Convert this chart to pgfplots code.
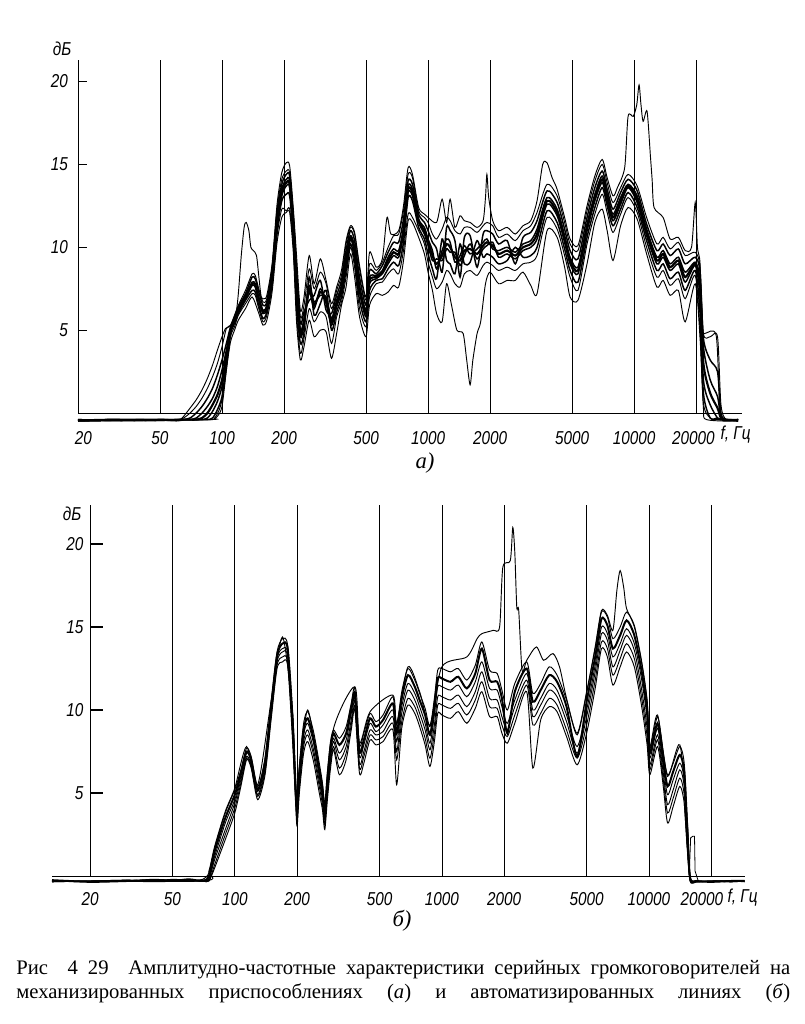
\documentclass[border=0pt]{standalone}
\usepackage{fontspec}
\setmainfont{Liberation Serif}
\newfontfamily\tickfont{Liberation Sans}[FakeStretch=0.82]
\usepackage{pgfplots}
\usepackage{pgfplotstable}
\pgfplotsset{compat=1.18}

% Panel (a): band of curves, columns k=+1 ... -1
\pgfplotstableread{
f a1 a2 a3 a4 a5 a6 a7
20 -0.4 -0.45 -0.4 -0.45 -0.4 -0.45 -0.5
30 -0.45 -0.4 -0.45 -0.4 -0.45 -0.4 -0.45
40 -0.4 -0.45 -0.4 -0.4 -0.45 -0.45 -0.4
50 -0.45 -0.4 -0.45 -0.4 -0.4 -0.45 -0.45
60 -0.4 -0.4 -0.4 -0.45 -0.4 -0.4 -0.45
65 -0.3 -0.4 -0.4 -0.4 -0.4 -0.4 -0.4
70 0.0 -0.3 -0.4 -0.4 -0.4 -0.4 -0.4
75 0.4 0.0 -0.3 -0.4 -0.4 -0.4 -0.4
80 0.9 0.4 0.0 -0.3 -0.4 -0.4 -0.4
85 1.5 0.9 0.4 0.0 -0.3 -0.4 -0.4
90 2.2 1.5 0.9 0.5 0.1 -0.3 -0.4
95 3.0 2.3 1.6 1.1 0.7 0.2 -0.2
100 4.0 3.2 2.6 2.0 1.6 1.0 0.4
105 5.1 4.2 3.8 3.5 3.2 3.0 2.6
110 5.3 5.2 5.1 5.0 4.9 4.8 4.6
115 5.9 5.8 5.7 5.6 5.5 5.4 5.2
120 6.5 6.4 6.3 6.2 6.1 6.0 5.9
130 7.4 7.2 7.1 7.0 6.9 6.8 6.6
140 8.4 8.2 7.9 7.8 7.7 7.4 7.2
145 8.3 8.1 7.8 7.7 7.6 7.3 7.1
150 7.6 7.4 7.1 7.0 6.9 6.6 6.4
158 6.7 6.5 6.2 6.1 6.0 5.7 5.5
165 6.9 6.7 6.5 6.4 6.3 6.1 5.9
175 8.8 8.6 8.3 8.2 8.1 7.8 7.6
185 12.3 12.0 11.7 11.5 11.3 11.0 10.7
195 14.1 13.8 13.5 13.3 13.1 12.8 12.3
205 14.6 14.4 14.1 13.9 13.7 13.2 12.2
213 14.5 14.3 14.0 13.8 13.6 13.1 12.3
222 12.0 11.6 11.2 11.0 10.8 10.4 10.0
230 9.0 8.4 7.8 7.5 7.2 6.6 6.0
240 5.8 5.4 5.0 4.8 4.6 4.2 3.6
250 6.5 6.1 5.7 5.5 5.3 4.9 4.5
265 8.7 6.8 7.7 7.5 7.3 8.2 6.3
280 7.5 7.1 6.7 6.5 6.3 5.9 5.5
300 8.5 8.0 7.1 7.3 7.5 6.6 6.1
320 7.8 6.2 7.0 6.8 6.6 7.4 5.8
340 6.3 6.0 5.7 5.5 5.3 5.0 4.2
360 7.4 7.1 6.8 6.6 6.4 6.1 5.8
380 8.3 8.0 7.7 7.5 7.3 7.0 6.7
400 10.2 9.8 9.4 9.2 9.0 8.6 8.2
420 11.2 11.0 10.7 10.6 10.5 10.2 10.0
440 10.8 10.4 10.0 9.8 9.6 9.2 8.8
465 8.7 8.2 7.7 7.5 7.3 6.8 6.3
500 6.8 6.5 6.2 6.0 5.8 5.5 5.2
520 9.0 8.6 8.2 8.0 7.8 7.4 7.0
560 8.6 8.4 8.3 8.2 8.1 8.0 7.8
600 9.1 8.9 8.6 8.5 8.4 8.1 7.9
640 10.0 9.7 9.4 9.2 9.0 8.7 8.4
680 10.7 10.3 9.9 9.7 9.5 9.1 8.7
720 10.8 10.3 9.8 9.6 9.4 8.9 8.4
760 12.2 11.7 11.2 11.0 10.8 10.3 9.8
800 14.4 14.0 13.7 13.5 13.3 13.0 12.0
840 14.2 13.8 13.5 13.3 13.1 12.8 11.8
900 12.2 12.0 11.7 11.6 11.5 11.2 11.0
960 11.8 11.5 11.2 11.0 10.8 10.5 10.2
1000 11.5 11.0 10.5 10.3 10.1 9.6 9.1
1050 10.8 10.3 9.8 9.5 9.2 8.7 8.2
1100 10.5 9.9 8.7 9.0 9.3 8.1 7.5
1170 11.1 8.5 9.8 9.5 9.2 10.5 7.9
1230 11.8 11.2 10.5 10.2 9.9 9.2 8.6
1280 11.6 11.0 10.3 10.0 9.7 9.0 8.4
1350 11.0 10.4 9.1 9.4 9.7 8.4 7.8
1430 10.8 8.2 9.5 9.2 8.9 10.2 7.6
1500 11.2 10.6 10.1 9.8 9.5 9.0 8.4
1600 11.2 10.7 9.6 9.9 10.2 9.1 8.6
1730 10.9 8.8 9.9 9.6 9.3 10.4 8.3
1850 11.3 10.8 10.3 10.1 9.9 9.4 8.9
1930 11.5 11.0 10.5 10.3 10.1 9.6 9.1
2060 11.3 10.8 9.9 10.1 10.3 9.4 8.9
2200 10.6 10.2 9.8 9.6 9.4 9.0 8.6
2420 10.8 10.4 10.0 9.8 9.6 9.2 8.8
2650 10.4 9.0 9.7 9.5 9.3 10.0 8.6
2890 11.0 10.6 10.2 10.0 9.8 9.4 9.0
3150 11.3 10.9 10.4 10.2 10.0 9.5 9.1
3380 12.1 11.6 11.1 10.8 10.5 10.0 9.5
3780 13.8 13.4 13.0 12.8 12.6 12.2 11.8
4230 13.1 12.7 12.3 12.1 11.9 11.5 11.1
4600 11.5 11.1 10.7 10.5 10.3 9.9 9.5
4890 10.2 9.8 9.4 9.2 9.0 8.6 8.2
5340 9.8 9.3 8.8 8.6 8.4 7.9 7.4
5910 12.2 11.8 11.4 11.2 11.0 10.6 10.2
6450 14.0 13.6 13.2 13.0 12.8 12.4 12.0
7000 15.0 14.6 14.3 14.1 13.9 13.6 13.2
7400 13.9 13.5 13.2 13.0 12.8 12.5 12.1
7900 12.7 12.3 12.0 11.8 11.6 11.3 10.9
8600 13.6 13.3 13.0 12.8 12.6 12.3 12.0
9350 14.4 14.1 13.8 13.7 13.6 13.3 13.0
10350 13.7 13.4 13.1 12.9 12.7 12.4 12.1
11500 11.8 11.4 11.1 10.9 10.7 10.4 10.0
12900 10.2 9.8 9.4 9.2 9.0 8.6 8.2
13830 10.6 10.2 9.8 9.6 9.4 9.0 8.6
14960 9.9 9.5 9.0 8.8 8.6 8.1 7.7
16400 10.3 9.9 9.4 9.2 9.0 8.5 8.1
17700 9.5 9.0 8.5 8.2 7.9 7.4 6.9
19800 9.7 9.4 9.1 9.0 8.9 8.6 8.3
20900 8.8 8.5 8.0 7.5 7.0 6.0 5.0
21700 4.8 4.5 4.0 3.0 2.0 1.2 0.6
23400 4.6 3.2 2.0 1.2 0.5 -0.3 -0.3
25400 4.6 2.5 1.0 0.3 -0.3 -0.3 -0.4
26400 0.5 0.0 -0.3 -0.3 -0.4 -0.4 -0.4
28000 -0.4 -0.4 -0.45 -0.4 -0.4 -0.45 -0.4
32000 -0.4 -0.4 -0.4 -0.45 -0.4 -0.4 -0.4
}\dataA

% Panel (b): band of curves, columns k=+1 ... -1
\pgfplotstableread{
f b1 b2 b3 b4 b5 b6
13.1 -0.3 -0.25 -0.3 -0.35 -0.3 -0.35
20 -0.3 -0.35 -0.3 -0.3 -0.35 -0.3
30 -0.25 -0.3 -0.3 -0.25 -0.3 -0.3
40 -0.3 -0.25 -0.2 -0.3 -0.25 -0.3
50 -0.2 -0.3 -0.25 -0.3 -0.3 -0.25
60 -0.25 -0.2 -0.3 -0.25 -0.3 -0.3
70 -0.2 -0.3 -0.25 -0.3 -0.3 -0.3
75 0.2 0.0 -0.1 -0.2 -0.3 -0.3
80 1.7 1.5 1.2 1.0 0.7 0.5
90 3.8 3.5 3.2 2.8 2.5 2.2
100 5.2 4.9 4.6 4.4 4.1 3.8
107 6.4 6.2 6.0 5.8 5.6 5.4
114 7.7 7.5 7.4 7.2 7.1 7.0
120 7.2 7.0 6.9 6.7 6.6 6.5
129 5.4 5.2 5.1 4.9 4.8 4.6
140 7.1 6.9 6.7 6.5 6.3 6.1
150 10.5 10.3 10.1 9.9 9.7 9.5
160 13.5 13.3 13.1 12.9 12.7 12.5
170 14.3 14.0 13.7 13.5 13.2 12.9
180 13.9 13.7 13.4 13.2 12.9 12.7
190 9.8 9.5 9.2 8.8 8.5 8.2
197 5.4 5.2 4.9 4.7 4.4 4.2
200 4.6 4.3 4.0 3.6 3.3 3.0
205 6.6 6.3 6.0 5.6 5.3 5.0
215 9.2 8.8 8.5 8.1 7.8 7.4
225 9.9 9.5 9.2 8.8 8.5 8.1
240 8.7 8.3 8.0 7.6 7.3 6.9
255 6.9 6.5 6.2 5.8 5.5 5.1
265 5.6 5.3 5.0 4.6 4.3 4.0
272 4.2 3.9 3.6 3.4 3.1 2.8
280 6.2 5.9 5.6 5.2 4.9 4.6
290 8.1 7.8 7.5 7.1 6.8 6.5
300 8.8 8.6 8.3 8.1 7.8 7.6
320 8.3 7.9 7.4 7.0 6.5 6.1
345 9.0 8.6 8.2 7.8 7.4 7.0
365 10.4 10.1 9.8 9.4 9.1 8.8
380 11.3 11.0 10.7 10.5 10.2 10.0
400 7.9 7.5 7.2 6.8 6.5 6.2
420 8.6 8.2 7.9 7.5 7.2 6.8
450 9.8 9.5 9.2 8.8 8.5 8.2
480 9.3 9.0 8.7 8.5 8.2 7.9
520 9.7 9.4 9.1 8.7 8.4 8.1
580 10.8 10.4 10.0 9.6 9.2 8.8
605 9.1 8.6 8.1 7.5 7.0 5.5
640 11.1 10.7 10.2 9.8 9.3 8.9
686 12.5 12.1 11.6 11.2 10.7 10.3
740 11.8 11.4 11.0 10.6 10.2 9.8
781 11.0 10.6 10.2 9.8 9.4 9.0
830 10.1 9.7 9.2 8.8 8.3 7.9
876 9.0 8.5 8.0 7.6 7.1 6.6
920 10.7 10.2 9.7 9.1 8.6 8.1
955 12.4 11.9 11.4 10.8 10.3 9.8
1000 12.5 11.9 11.4 10.8 10.3 9.7
1100 12.3 11.7 11.2 10.6 10.1 9.5
1200 12.5 12.0 11.5 10.9 10.4 9.9
1320 11.8 11.3 10.8 10.2 9.7 9.2
1450 12.7 12.2 11.7 11.1 10.6 10.1
1560 14.1 13.7 12.9 12.3 11.7 11.1
1700 12.4 11.8 11.3 10.7 10.2 9.6
1850 12.2 11.7 11.2 10.6 10.1 9.6
1950 11.2 10.7 10.2 9.6 9.1 8.6
2070 10.0 8.6 9.2 8.8 8.4 8.0
2250 11.6 11.1 10.6 10.2 9.7 9.2
2570 12.9 12.5 12.2 11.8 11.5 11.1
2750 11.0 10.5 10.0 9.6 9.1 6.5
3000 11.6 11.2 10.7 10.3 9.8 9.4
3300 12.6 12.1 11.6 11.2 10.7 10.2
3600 12.1 11.7 11.2 10.8 10.3 9.9
4000 10.6 10.2 9.7 9.3 8.8 8.4
4500 8.5 7.2 7.8 7.4 7.1 6.7
5000 11.0 10.5 10.0 9.6 9.1 8.6
5500 13.7 13.2 12.7 12.3 11.8 11.3
5900 15.9 15.5 15.0 14.6 14.1 13.7
6300 15.6 15.1 14.6 14.2 13.7 13.2
6700 14.3 13.7 13.2 12.6 12.1 11.5
7260 15.0 14.5 14.0 13.6 13.1 12.6
7800 15.9 15.4 14.9 14.5 14.0 13.5
8500 15.0 14.5 14.0 13.6 13.1 12.6
9200 12.9 12.4 11.9 11.3 10.8 10.3
9800 10.5 10.0 9.5 8.9 8.4 7.9
10100 7.7 7.4 7.1 6.7 6.4 6.1
11000 9.6 9.2 8.9 8.5 8.2 7.8
11700 7.5 7.1 6.7 6.3 5.9 5.5
12300 6.0 5.4 4.9 4.3 3.8 3.2
13100 6.8 6.3 5.8 5.2 4.7 4.2
14100 7.8 7.3 6.8 6.4 5.9 5.4
14800 6.8 6.3 5.8 5.4 4.9 4.4
15300 3.3 3.0 2.7 2.3 2.0 1.7
15800 0.0 -0.1 -0.2 -0.2 -0.3 -0.3
17000 -0.35 -0.3 -0.35 -0.3 -0.35 -0.3
20000 -0.3 -0.35 -0.3 -0.3 -0.3 -0.35
25000 -0.35 -0.3 -0.3 -0.35 -0.3 -0.3
29000 -0.3 -0.3 -0.35 -0.3 -0.3 -0.3
}\dataB

\tikzset{crv/.style={black, line width=0.7pt, smooth, tension=0.45}}
\newcommand\tf{\tickfont\itshape\fontsize{14}{16}\selectfont}

\begin{document}
\begin{tikzpicture}
\useasboundingbox (0,0) rectangle (603pt,-768pt);

% ---------------- panel (a) ----------------
\begin{axis}[at={(58.5pt,-309.75pt)}, anchor=south west, scale only axis,
  width=498pt, height=264.75pt,
  xmode=log, xmin=20, xmax=33400, ymin=0, ymax=21.3, clip=false,
  axis x line=bottom, axis y line=left, separate axis lines,
  axis line style={-, line width=0.6pt},
  xtick={20,50,100,200,500,1000,2000,5000,10000,20000},
  xticklabels={\hspace*{8pt}20,50,100,200,500,1000,2000,5000,10000,20000\hspace*{4pt}},
  xminorticks=false, xmajorgrids, major grid style={black, line width=0.5pt},
  xtick style={draw=none},
  ytick={5,10,15,20}, yticklabels={5,10,15,20},
  ytick align=inside, major tick length=6.75pt, ytick style={black, line width=0.6pt},
  ticklabel style={font=\tf},
  xticklabel style={yshift=-7pt}, yticklabel style={xshift=-4pt}]
\addplot[crv] table[x=f,y=a1]{\dataA};
\addplot[crv, line width=1.1pt] table[x=f,y=a2]{\dataA};
\addplot[crv, line width=1.1pt] table[x=f,y=a3]{\dataA};
\addplot[crv, line width=1.6pt] table[x=f,y=a4]{\dataA};
\addplot[crv, line width=1.1pt] table[x=f,y=a5]{\dataA};
\addplot[crv, line width=1.1pt] table[x=f,y=a6]{\dataA};
\addplot[crv] table[x=f,y=a7]{\dataA};
% upper outlier
\addplot[crv] coordinates {(20,-0.4) (60,-0.4) (64,-0.3) (70,0.3) (75,0.8) (80,1.4) (85,2.1) (90,2.9) (95,3.8) (100,4.6) (104,5.1) (108,5.2) (113,5.3) (117,6.0) (120,7.2) (124,9.5) (128,11.2) (131,11.5) (135,11.0) (138,10.0) (142,9.8) (147,9.5) (151,8.2) (155,7.0) (160,6.9) (165,7.1) (175,9.0) (185,12.6) (195,14.5) (205,15.1) (213,14.9) (222,12.3) (230,9.5) (240,6.2) (250,7.0) (265,9.5) (280,7.8) (300,9.3) (320,8.0) (340,6.6) (360,7.6) (380,8.6) (400,10.4) (420,11.3) (440,10.9) (465,8.9) (500,7.0) (520,9.7) (560,8.8) (600,9.3) (632,11.8) (660,10.8) (720,11.0) (760,12.5) (800,14.8) (840,14.4) (900,12.4) (960,12.0) (1000,11.8) (1100,11.5) (1170,12.9) (1230,11.5) (1280,12.9) (1350,11.2) (1430,11.9) (1500,11.6) (1600,11.5) (1730,11.2) (1850,11.6) (1900,13.0) (1930,14.4) (1970,13.0) (2060,11.6) (2200,11.0) (2420,11.2) (2650,10.8) (2890,11.3) (3150,11.6) (3380,12.8) (3600,15.0) (3780,15.1) (4000,14.2) (4230,13.5) (4600,11.8) (4890,10.5) (5340,10.1) (5910,12.5) (6450,14.3) (7000,15.3) (7400,14.2) (7900,13.1) (8300,13.6) (9000,14.8) (9350,17.9) (9900,17.9) (10300,18.6) (10570,19.8) (10800,18.6) (11060,17.6) (11560,18.2) (12000,15.5) (12230,14.1) (12500,12.4) (13830,11.8) (14960,10.5) (16400,10.6) (17700,9.8) (19000,10.0) (19800,12.7) (20300,10.0) (20900,9.0) (21200,5.0) (22000,4.8) (25000,4.7) (26000,0.5) (27000,-0.4) (32000,-0.4)};
% lower outlier
\addplot[crv] coordinates {(20,-0.5) (85,-0.4) (92,-0.3) (97,0.2) (100,0.8) (103,1.8) (106,3.0) (110,4.3) (115,5.0) (120,5.6) (130,6.3) (140,7.0) (150,6.1) (158,5.3) (165,5.6) (175,7.3) (185,10.3) (195,11.8) (205,12.1) (213,12.1) (222,9.6) (230,5.5) (240,3.2) (250,4.0) (265,5.6) (280,4.6) (300,5.0) (320,4.9) (340,3.3) (360,4.8) (380,6.5) (400,7.6) (420,9.6) (440,8.2) (465,5.8) (500,4.6) (520,6.5) (560,7.2) (600,7.1) (640,7.3) (680,7.7) (720,7.6) (760,9.2) (800,11.6) (840,11.5) (900,10.6) (960,9.6) (1000,8.5) (1050,7.4) (1100,6.0) (1170,5.5) (1230,7.8) (1300,6.5) (1380,5.0) (1480,4.8) (1540,3.2) (1600,1.7) (1650,3.2) (1730,4.8) (1800,5.5) (1900,7.8) (2000,8.5) (2200,7.8) (2420,8.0) (2650,8.0) (2890,8.5) (3150,7.7) (3380,7.2) (3780,11.0) (4230,10.6) (4600,8.8) (4890,7.0) (5340,6.8) (5910,9.0) (6450,11.5) (7000,12.3) (7400,11.0) (7900,9.2) (8600,11.3) (9350,12.4) (10350,11.7) (11500,9.6) (12900,7.6) (13830,8.0) (14960,7.1) (16400,7.4) (17700,5.5) (19800,7.8) (20900,4.5) (21700,0.3) (22500,-0.4) (32000,-0.5)};
\end{axis}

% ---------------- panel (b) ----------------
\begin{axis}[at={(39pt,-657pt)}, anchor=south west, scale only axis,
  width=519.75pt, height=278.25pt,
  xmode=log, xmin=13.1, xmax=29100, ymin=0, ymax=22.35, clip=false,
  axis x line=bottom, axis y line=left, separate axis lines,
  axis line style={-, line width=0.6pt}, y axis line style={draw=none},
  xtick={20,50,100,200,500,1000,2000,5000,10000,20000},
  xticklabels={20,50,100,200,500,1000,2000,5000,10000,20000\hspace*{14pt}},
  xminorticks=false, xmajorgrids, major grid style={black, line width=0.5pt},
  xtick style={draw=none},
  ytick={5,10,15,20}, yticklabels={5,10,15,20},
  ytick align=inside, ytick style={draw=none},
  ticklabel style={font=\tf},
  xticklabel style={yshift=-7pt}, yticklabel style={xshift=27pt}]
\addplot[crv] table[x=f,y=b1]{\dataB};
\addplot[crv, line width=1.5pt] table[x=f,y=b2]{\dataB};
\addplot[crv] table[x=f,y=b3]{\dataB};
\addplot[crv] table[x=f,y=b4]{\dataB};
\addplot[crv] table[x=f,y=b5]{\dataB};
\addplot[crv] table[x=f,y=b6]{\dataB};
% upper outlier
\addplot[crv] coordinates {(13.1,-0.3) (70,-0.3) (75,0.3) (80,1.8) (90,3.9) (100,5.3) (114,7.8) (129,5.5) (150,10.6) (170,14.4) (190,9.9) (200,4.7) (225,10.0) (272,4.3) (300,8.9) (380,11.4) (400,8.0) (450,9.9) (580,10.9) (605,9.2) (686,12.6) (781,11.1) (876,9.1) (1000,12.6) (1320,13.2) (1480,14.3) (1560,14.6) (1770,14.8) (1900,15.0) (1970,18.6) (2140,19.0) (2200,21.0) (2250,19.5) (2300,16.2) (2350,16.0) (2440,12.4) (2570,13.0) (2860,13.8) (3100,13.0) (3440,13.4) (3700,12.6) (4000,10.7) (4500,8.6) (5000,11.1) (5500,13.8) (5900,16.0) (6300,15.7) (6700,14.8) (7000,17.2) (7260,18.4) (7550,17.4) (7800,16.1) (8500,15.1) (9200,13.0) (9800,10.6) (10100,7.8) (11000,9.7) (12300,6.1) (14100,7.9) (15300,3.4) (15800,0.0) (17000,-0.3) (29000,-0.3)};
% small step near 16 kHz
\addplot[black, line width=0.6pt] coordinates {(14800,4.4) (15300,1.7) (15700,0.5) (15900,2.3) (16300,2.4) (16600,2.4) (16700,0.3) (17300,-0.3)};
\coordinate (t5) at (axis cs:20,5);
\coordinate (t10) at (axis cs:20,10);
\coordinate (t15) at (axis cs:20,15);
\coordinate (t20) at (axis cs:20,20);
\end{axis}
\draw[line width=0.8pt] (t5) -- ++(9.75pt,0pt);
\draw[line width=0.8pt] (t10) -- ++(9.75pt,0pt);
\draw[line width=0.8pt] (t15) -- ++(9.75pt,0pt);
\draw[line width=0.8pt] (t20) -- ++(9.75pt,0pt);

% ---------------- texts ----------------
\begin{scope}[x=0.75pt,y=-0.75pt]
\node[font=\tf] at (62,49) {дБ};
\node[font=\tf, anchor=west] at (716,435) {f, Гц};
\node[font=\itshape\fontsize{17}{19}\selectfont] at (425,463) {а)};
\node[font=\tf] at (72,514) {дБ};
\node[font=\tf, anchor=west] at (723,898) {f, Гц};
\node[font=\itshape\fontsize{17}{19}\selectfont] at (402,921) {б)};
\node[anchor=base west, inner sep=0pt, font=\fontsize{15.5}{17}\selectfont] at (16,974)
  {\makebox[580.5pt][s]{Рис\ \ 4 29\ \ Амплитудно-частотные характеристики серийных громкоговорителей на}};
\node[anchor=base west, inner sep=0pt, font=\fontsize{15.5}{17}\selectfont] at (16,998)
  {\makebox[580.5pt][s]{механизированных приспособлениях (\textit{а}) и автоматизированных линиях (\textit{б})}};
\end{scope}
\end{tikzpicture}
\end{document}
